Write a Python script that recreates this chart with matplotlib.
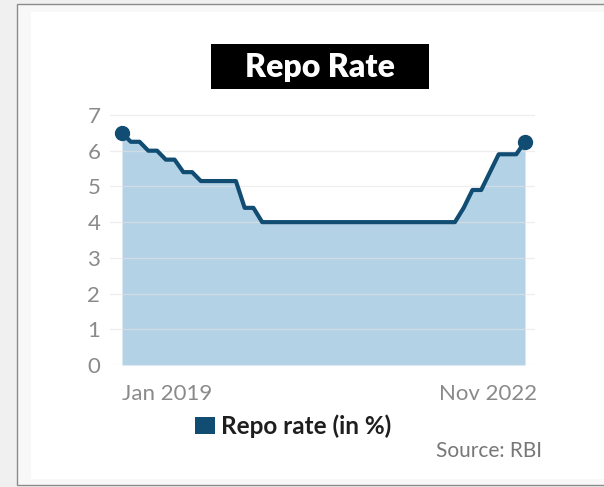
import matplotlib.pyplot as plt
from matplotlib.patches import Rectangle
import numpy as np

# Monthly repo rate (%), Jan 2019 .. Nov 2022
rate = [
    6.50, 6.25, 6.25, 6.00, 6.00, 5.75, 5.75, 5.40, 5.40, 5.15,
    5.15, 5.15, 5.15, 5.15, 4.40, 4.40, 4.00, 4.00, 4.00, 4.00,
    4.00, 4.00, 4.00, 4.00, 4.00, 4.00, 4.00, 4.00, 4.00, 4.00,
    4.00, 4.00, 4.00, 4.00, 4.00, 4.00, 4.00, 4.00, 4.00, 4.40,
    4.90, 4.90, 5.40, 5.90, 5.90, 5.90, 6.25,
]
x_labels = ["Jan 2019", "Nov 2022"]
y_ticks = [0, 1, 2, 3, 4, 5, 6, 7]

W, H = 604, 487
LINE = "#114d72"
FILL = "#b4d2e6"

plt.rcParams["font.family"] = ["Lato", "DejaVu Sans"]

fig = plt.figure(figsize=(W / 100, H / 100), dpi=100)
fig.patch.set_facecolor("#f0f0f0")


def px_rect(x0, y0, x1, y1, **kw):
    """Rectangle given in pixel coords (origin top-left)."""
    return Rectangle((x0 / W, 1 - y1 / H), (x1 - x0) / W, (y1 - y0) / H,
                     transform=fig.transFigure, **kw)


# card frame, kept behind the axes
fig.patches.append(px_rect(17, 4, W + 5, 485, facecolor="#f8f8f8",
                           edgecolor="#8c8c8c", linewidth=1.0, zorder=-2))
fig.patches.append(px_rect(31, 12, W, 479, facecolor="white",
                           edgecolor="none", zorder=-1))

ax = fig.add_axes([110 / W, 1 - 365 / H, 425 / W, (365 - 113.2) / H])
ax.set_zorder(1)
ax.set_facecolor("none")
x = np.arange(len(rate))

ax.fill_between(x, rate, 0, color=FILL, linewidth=0, zorder=1)
for t in y_ticks:
    ax.axhline(t, color="#e3e3e3", linewidth=0.9, alpha=0.6, zorder=2)
ax.plot(x, rate, color=LINE, linewidth=3.0, solid_joinstyle="round",
        solid_capstyle="round", zorder=3)
ax.plot([x[0], x[-1]], [rate[0], rate[-1]], "o", color=LINE,
        markersize=10, zorder=4)

ax.set_xlim(-1.37, len(rate) - 1 + 1.14)
ax.set_ylim(0, 7.05)
ax.set_yticks(y_ticks)
ax.set_yticklabels([str(t) for t in y_ticks], color="#8a8a8a", fontsize=16)
ax.tick_params(axis="y", length=0, pad=7)
ax.set_xticks([])
for s in ax.spines.values():
    s.set_visible(False)

# x-axis end labels
fig.text(122 / W, 1 - 394 / H, x_labels[0], ha="left", va="center",
         fontsize=16, color="#8a8a8a")
fig.text(537 / W, 1 - 394 / H, x_labels[1], ha="right", va="center",
         fontsize=16, color="#8a8a8a")

# title in a black box
fig.patches.append(px_rect(211, 44, 429, 89, facecolor="black",
                           edgecolor="none", zorder=1))
fig.text(320 / W, 1 - 67 / H, "Repo Rate", ha="center", va="center",
         fontsize=23, fontweight="heavy", color="white", zorder=2)

# legend
fig.patches.append(px_rect(195, 417, 215, 434, facecolor=LINE,
                           edgecolor="none", zorder=1))
fig.text(221 / W, 1 - 426 / H, "Repo rate (in %)", ha="left", va="center",
         fontsize=17.5, fontweight="bold", color="#1e1e1e")

fig.text(542 / W, 1 - 451 / H, "Source: RBI", ha="right", va="center",
         fontsize=15, color="#777777")

fig.savefig("out.png", dpi=100, facecolor=fig.get_facecolor())
